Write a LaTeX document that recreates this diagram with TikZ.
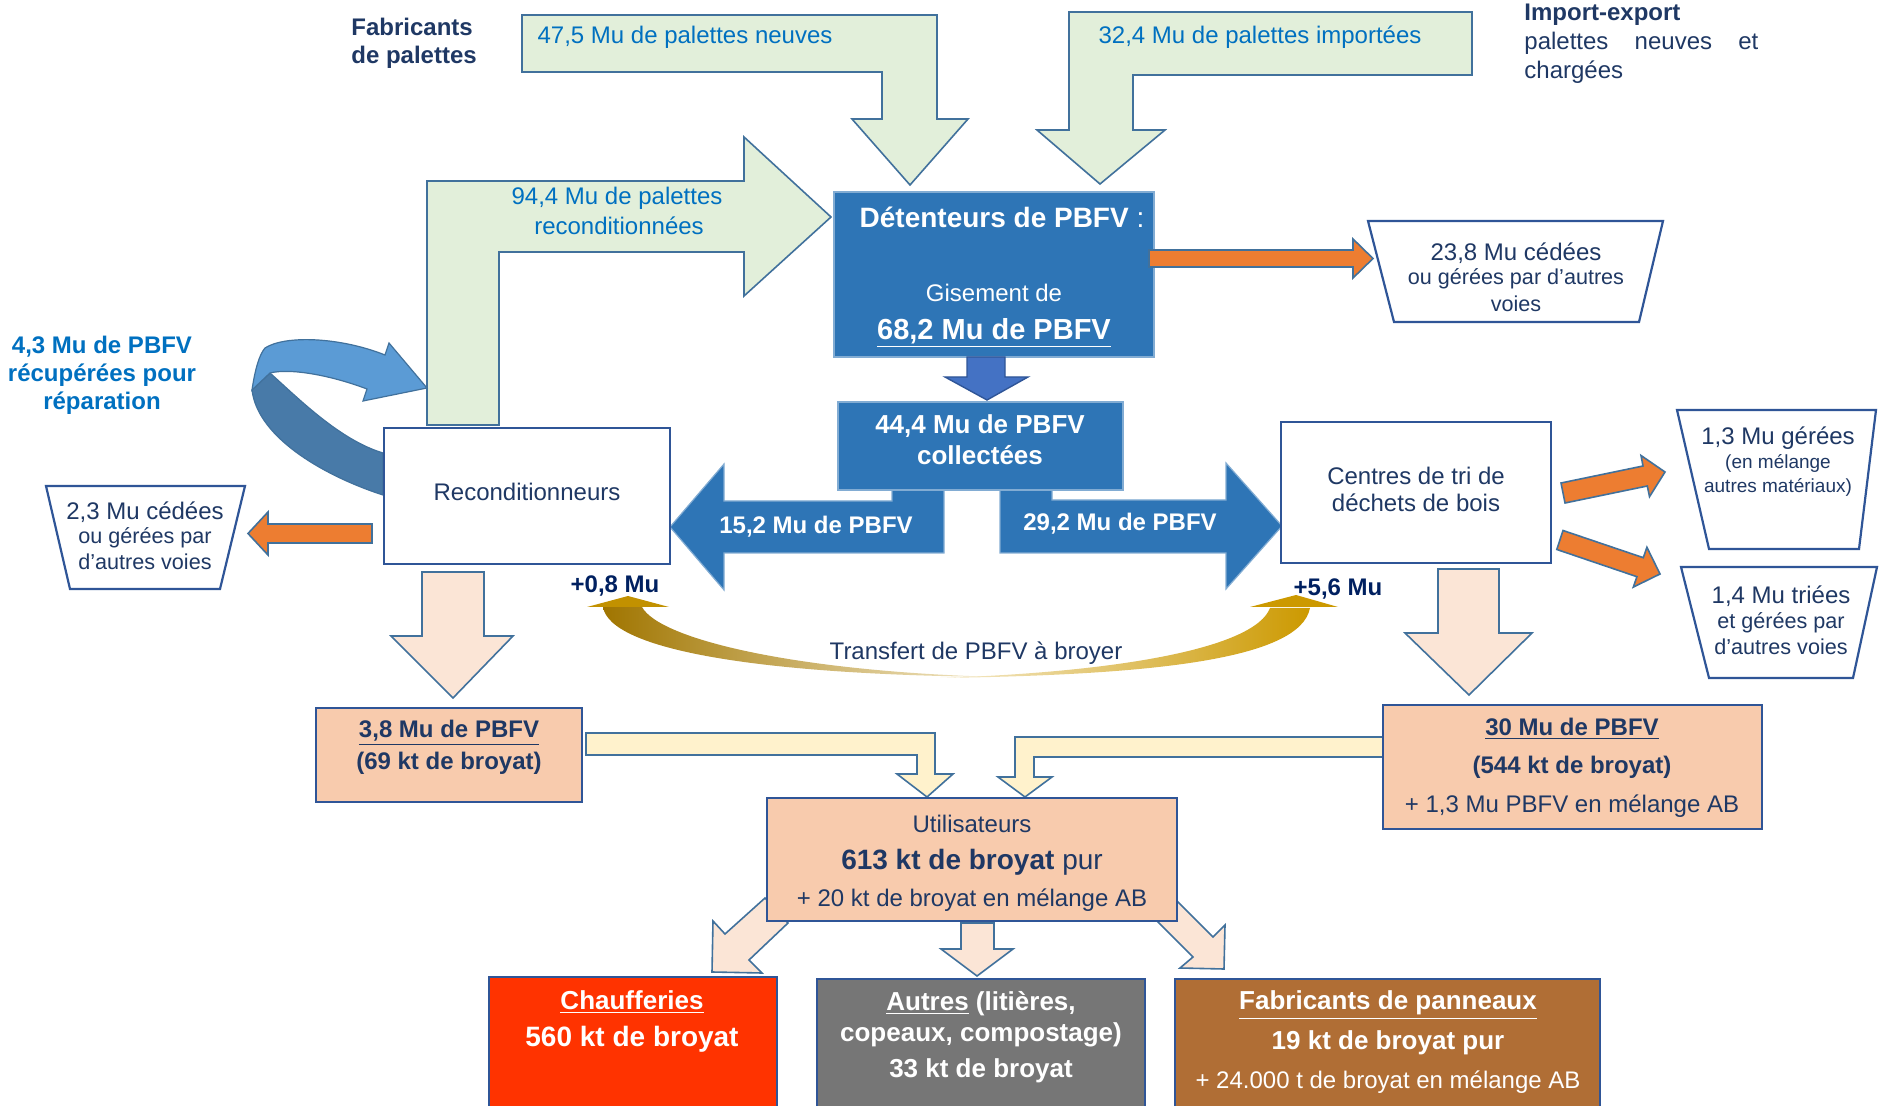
\documentclass[tikz,border=0pt]{standalone}
\usepackage{fontspec}
\setmainfont{Liberation Sans}

\definecolor{navy}{RGB}{31,56,100}
\definecolor{navyB}{RGB}{0,32,96}
\definecolor{lblue}{RGB}{0,112,192}
\definecolor{mainblue}{RGB}{46,117,182}
\definecolor{edgeblue}{RGB}{65,113,156}
\definecolor{boxedge}{RGB}{47,85,151}
\definecolor{greenfill}{RGB}{226,239,218}
\definecolor{peach}{RGB}{251,229,214}
\definecolor{peachbox}{RGB}{248,203,173}
\definecolor{cream}{RGB}{255,242,204}
\definecolor{orangeA}{RGB}{237,125,49}
\definecolor{arrowblue}{RGB}{68,114,196}
\definecolor{curvelight}{RGB}{91,155,213}
\definecolor{curvedark}{RGB}{72,122,168}
\definecolor{chauffred}{RGB}{255,51,0}
\definecolor{autregray}{RGB}{118,118,118}
\definecolor{panbrown}{RGB}{176,110,53}
\definecolor{goldA}{RGB}{160,117,0}
\definecolor{goldB}{RGB}{204,153,0}

\tikzset{
  arrowshape/.style={draw=edgeblue, line width=0.8pt, line join=miter},
  greenarrow/.style={arrowshape, fill=greenfill},
  peacharrow/.style={arrowshape, fill=peach},
  creamarrow/.style={arrowshape, fill=cream},
  orangearrow/.style={arrowshape, fill=orangeA},
  bluebody/.style={fill=mainblue, draw=mainblue!60!white, line width=0.6pt},
  boxwhite/.style={draw=boxedge, line width=1.1pt, fill=white, inner sep=0pt},
  boxpeach/.style={draw=boxedge, line width=1.1pt, fill=peachbox, inner sep=0pt},
  trapbox/.style={draw=boxedge, line width=1.1pt, fill=white},
  txt/.style={inner sep=0pt, text=navy, font=\fontsize{12}{14}\selectfont},
  txtb/.style={txt, font=\fontsize{12}{14}\selectfont\bfseries},
  txtsmall/.style={txt, font=\fontsize{10.8}{13}\selectfont},
  txttiny/.style={txt, font=\fontsize{9.5}{12}\selectfont},
  txtwhite/.style={inner sep=0pt, text=white, font=\fontsize{13}{15}\selectfont\bfseries}
}

\begin{document}
\begin{tikzpicture}[x=0.5pt,y=0.5pt,yscale=-1]
\useasboundingbox (0,0) rectangle (1879,1106);

%Shape: green arrow [palettes neuves]
\draw[greenarrow] (522,15) -- (937,15) -- (937,119) -- (968,119) -- (910,185) -- (852,119) -- (882,119) -- (882,72) -- (522,72) -- cycle ;
%Shape: green arrow [palettes importees]
\draw[greenarrow] (1472,12) -- (1069,12) -- (1069,130) -- (1037,130) -- (1100,184) -- (1165,130) -- (1133,130) -- (1133,75) -- (1472,75) -- cycle ;
%Shape: green arrow [reconditionnees]
\draw[greenarrow] (427,425) -- (427,181) -- (744,181) -- (744,137) -- (831,217) -- (744,296) -- (744,252) -- (499,252) -- (499,425) -- cycle ;

% Text Node
\node[txt, text=lblue] (tNeuves) at (685,37) {47,5 Mu de palettes neuves};
\node[txt, text=lblue] (tImport) at (1260,37) {32,4 Mu de palettes importées};
\node[txt, text=lblue] (tRecA) at (617,198) {94,4 Mu de palettes};
\node[txt, text=lblue] (tRecB) at (619,226) {reconditionnées};
\node[txtb, anchor=west] (tFabA) at (351,27) {Fabricants};
\node[txtb, anchor=west] (tFabB) at (351,57) {de palettes};
\node[txtb, anchor=west] (tImpA) at (1524,15) {Import-export};
\node[txt, anchor=west] (tImpB) at (1524,43) {\makebox[117pt][s]{palettes neuves et}};
\node[txt, anchor=west] (tImpC) at (1524,72) {chargées};

%Shape: Detenteurs
\node[fill=mainblue, draw=mainblue!60!white, line width=0.6pt, minimum width=160pt, minimum height=82.5pt] (detenteurs) at (994,274.5) {};
\node[txtwhite, font=\fontsize{14}{16}\selectfont] (tDetA) at (1002,217) {\bfseries Détenteurs de PBFV \mdseries:};
\node[txtwhite, font=\fontsize{12}{14}\selectfont] (tDetB) at (994,293) {Gisement de};
\node[txtwhite, font=\fontsize{14.5}{17}\selectfont\bfseries] (tDetC) at (994,333) {\underline{68,2 Mu de PBFV}};

%Shape: orange arrow to 23,8
\draw[orangearrow] (1149,250) -- (1353,250) -- (1353,239) -- (1373,258.5) -- (1353,278) -- (1353,267) -- (1149,267) -- cycle ;
%Shape: Trapezoid 23,8
\draw[trapbox] (1368,221) -- (1663,221) -- (1639,322) -- (1394,322) -- cycle ;
\node[txt] (t238A) at (1516,253) {23,8 Mu cédées};
\node[txtsmall] (t238B) at (1516,279) {ou gérées par d’autres};
\node[txtsmall] (t238C) at (1516,304) {voies};

%Shape: blue arrow down
\draw[fill=arrowblue, draw=boxedge, line width=0.7pt] (967,357) -- (1005,357) -- (1005,377) -- (1028,377) -- (987,400) -- (945,377) -- (967,377) -- cycle ;

%Shape: collected box and both blue arrows
\draw[bluebody] (892,490) -- (944,490) -- (944,553) -- (724,553) -- (724,590) -- (670,527) -- (724,464) -- (724,501) -- (892,501) -- cycle ;
\draw[bluebody] (1000,490) -- (1052,490) -- (1052,500) -- (1226,500) -- (1226,463) -- (1282,526) -- (1226,589) -- (1226,553) -- (1000,553) -- cycle ;
\node[fill=mainblue, draw=mainblue!60!white, line width=0.6pt, minimum width=142.5pt, minimum height=44pt] (collectees) at (980.5,446) {};
\node[txtwhite] (tColA) at (980,426) {44,4 Mu de PBFV};
\node[txtwhite] (tColB) at (980,455) {collectées};
\node[txtwhite, font=\fontsize{12}{14}\selectfont\bfseries] (t152) at (816,527) {15,2 Mu de PBFV};
\node[txtwhite, font=\fontsize{12}{14}\selectfont\bfseries] (t292) at (1120,524) {29,2 Mu de PBFV};

%Shape: curved blue arrow
\draw[fill=curvedark, draw=edgeblue, line width=0.6pt] (383,495) .. controls (330,478) and (258,440) .. (252,390) -- (270,373) .. controls (300,400) and (340,440) .. (383,453) -- cycle ;
\draw[fill=curvelight, draw=edgeblue, line width=0.6pt] (252,390) .. controls (255,370) and (259,355) .. (265,348) .. controls (285,335) and (340,337) .. (385,355) -- (389,343) -- (427,388) -- (363,401) -- (367,389) .. controls (330,375) and (290,368) .. (270,373) -- cycle ;
\node[txtb, text=lblue] (t43A) at (102,347) {4,3 Mu de PBFV};
\node[txtb, text=lblue] (t43B) at (102,375) {récupérées pour};
\node[txtb, text=lblue] (t43C) at (102,403) {réparation};

%Shape: Reconditionneurs
\node[boxwhite, minimum width=143pt, minimum height=68pt] (recond) at (527,496) {};
\node[txt] (tRecond) at (527,492) {Reconditionneurs};

%Shape: orange arrow to 2,3
\draw[orangearrow] (372,524) -- (268,524) -- (268,512) -- (248,533.5) -- (268,555) -- (268,543) -- (372,543) -- cycle ;
%Shape: Trapezoid 2,3
\draw[trapbox] (46,486) -- (245,486) -- (220,589) -- (70,589) -- cycle ;
\node[txt] (t23A) at (145,512) {2,3 Mu cédées};
\node[txtsmall] (t23B) at (145,538) {ou gérées par};
\node[txtsmall] (t23C) at (145,562) {d’autres voies};

%Shape: Centres de tri
\node[boxwhite, minimum width=135pt, minimum height=70.5pt] (centres) at (1416,492.5) {};
\node[txt] (tCenA) at (1416,476) {Centres de tri de};
\node[txt] (tCenB) at (1416,503) {déchets de bois};

%Shape: orange arrows to the right
\draw[orangearrow] (1561,483) -- (1643,466) -- (1641,455.5) -- (1665,472) -- (1649.5,496.7) -- (1647.3,486) -- (1565,503) -- cycle ;
\draw[orangearrow] (1563,530.5) -- (1643.3,557.7) -- (1646.9,547.3) -- (1660,574) -- (1633.3,587.1) -- (1636.9,576.7) -- (1556.8,549.5) -- cycle ;
%Shape: Trapezoid 1,3
\draw[trapbox] (1677,410) -- (1876,410) -- (1859,549) -- (1709,549) -- cycle ;
\node[txt] (t13A) at (1778,438) {1,3 Mu gérées};
\node[txttiny] (t13B) at (1778,463) {(en mélange};
\node[txttiny] (t13C) at (1778,487) {autres matériaux)};
%Shape: Trapezoid 1,4
\draw[trapbox] (1681,567) -- (1877,567) -- (1853,678) -- (1709,678) -- cycle ;
\node[txt] (t14A) at (1781,596) {1,4 Mu triées};
\node[txtsmall] (t14B) at (1781,623) {et gérées par};
\node[txtsmall] (t14C) at (1781,647) {d’autres voies};

%Shape: peach arrows down
\draw[peacharrow] (422,572) -- (484,572) -- (484,636) -- (513,636) -- (453,698) -- (391,636) -- (422,636) -- cycle ;
\draw[peacharrow] (1438,569) -- (1499,569) -- (1499,633) -- (1532,633) -- (1469,695) -- (1405,633) -- (1438,633) -- cycle ;

%Shape: gold transfer arrows
\shade[left color=goldA, middle color=goldA!85!goldB, right color=goldB!20!white] (603,607) .. controls (610,650) and (760,675) .. (1000,677) .. controls (800,672) and (660,640) .. (642,607) -- cycle ;
\fill[goldB!95!black] (587,607) -- (628,596) -- (669,607) -- cycle ;
\shade[left color=goldB!20!white, middle color=goldB, right color=goldB] (1310,608) .. controls (1300,660) and (1150,675) .. (940,678) .. controls (1120,672) and (1255,648) .. (1270,608) -- cycle ;
\fill[goldB] (1250,607) -- (1296,595) -- (1338,607) -- cycle ;
\node[txtb, text=navyB] (t08) at (615,586) {+0,8 Mu};
\node[txtb, text=navyB] (t56) at (1338,589) {+5,6 Mu};
\node[txt] (tTransfert) at (976,653) {Transfert de PBFV à broyer};

%Shape: cream arrows to users
\draw[creamarrow] (586,733) -- (935,733) -- (935,774) -- (953,774) -- (927,797) -- (897,774) -- (917,774) -- (917,755) -- (586,755) -- cycle ;
\draw[creamarrow] (1383,737) -- (1015,737) -- (1015,777) -- (998,777) -- (1025,797) -- (1052,777) -- (1034,777) -- (1034,757) -- (1383,757) -- cycle ;

%Shape: 3,8 Mu box
\node[boxpeach, minimum width=133pt, minimum height=47pt] (u38) at (449,755) {};
\node[txtb] (t38A) at (449,733) {\underline{3,8 Mu de PBFV}};
\node[txtb] (t38B) at (449,763) {(69 kt de broyat)};
%Shape: 30 Mu box
\node[boxpeach, minimum width=189.5pt, minimum height=62pt] (u30) at (1572.5,767) {};
\node[txtb] (t30A) at (1572,729) {\underline{30 Mu de PBFV}};
\node[txtb] (t30B) at (1572,767) {(544 kt de broyat)};
\node[txt] (t30C) at (1572,806) {+ 1,3 Mu PBFV en mélange AB};

%Shape: small peach arrows from users
\draw[peacharrow] (765,898) -- (788,923) -- (749,960) -- (762,973) -- (712,972) -- (713,921) -- (725,934) -- cycle ;
\draw[peacharrow] (961,923) -- (994,923) -- (994,949) -- (1013,949) -- (977,976) -- (941,949) -- (961,949) -- cycle ;
\draw[peacharrow] (1178,902) -- (1213,937) -- (1225,925) -- (1224,969) -- (1180,968) -- (1193,957) -- (1158,922) -- cycle ;

%Shape: Utilisateurs
\node[boxpeach, minimum width=205pt, minimum height=61.5pt] (utilis) at (972,859.5) {};
\node[txt] (tUtiA) at (972,824) {Utilisateurs};
\node[txt, font=\fontsize{14}{16}\selectfont] (tUtiB) at (972,862) {\textbf{613 kt de broyat} pur};
\node[txt] (tUtiC) at (972,900) {+ 20 kt de broyat en mélange AB};

%Shape: bottom boxes
\draw[fill=chauffred, draw=boxedge, line width=1pt] (489,977) rectangle (777,1112) ;
\draw[fill=autregray, draw=boxedge, line width=1pt] (817,979) rectangle (1145,1112) ;
\draw[fill=panbrown, draw=boxedge, line width=1pt] (1175,979) rectangle (1600,1112) ;
\node[txtwhite] (tChA) at (632,1002) {\underline{Chaufferies}};
\node[txtwhite, font=\fontsize{14}{16}\selectfont\bfseries] (tChB) at (632,1039) {560 kt de broyat};
\node[txtwhite] (tAuA) at (981,1004) {\underline{Autres} (litières,};
\node[txtwhite] (tAuB) at (981,1035) {copeaux, compostage)};
\node[txtwhite] (tAuC) at (981,1071) {33 kt de broyat};
\node[txtwhite] (tPaA) at (1388,1005) {\underline{Fabricants de panneaux}};
\node[txtwhite] (tPaB) at (1388,1043) {19 kt de broyat pur};
\node[txtwhite, font=\fontsize{12}{14}\selectfont] (tPaC) at (1388,1082) {+ 24.000 t de broyat en mélange AB};
\end{tikzpicture}
\end{document}
